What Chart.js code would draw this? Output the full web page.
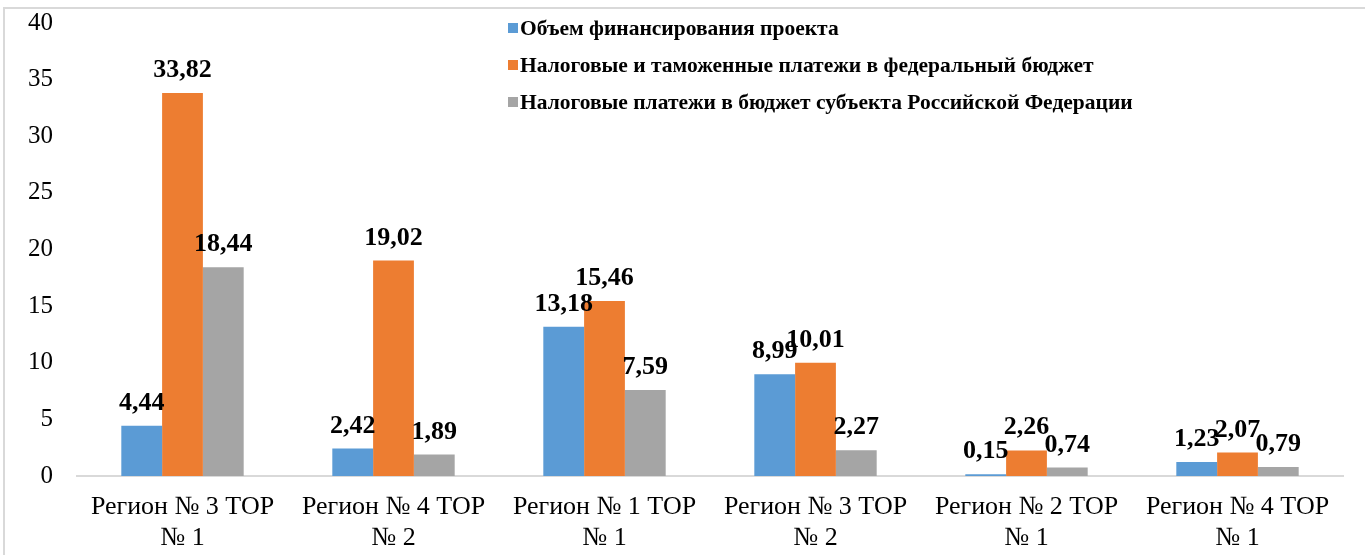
<!DOCTYPE html>
<html>
<head>
<meta charset="utf-8">
<script src="https://cdn.jsdelivr.net/npm/chart.js@4.4.1/dist/chart.umd.min.js"></script>
<style>
    body { margin: 0; background: #fff; }
    #frame {
        position: absolute; left: 3px; top: 7px;
        width: 1400px; height: 600px;
        border: 2px solid #d9d9d9;
    }
    #wrap { position: absolute; left: 0; top: 0; width: 1365px; height: 555px; }
    #legend {
        position: absolute; left: 508px; top: 11px;
        font-family: "Liberation Serif", serif; font-weight: bold; font-size: 21.5px;
        color: #000;
    }
    #legend div { height: 37px; line-height: 34px; white-space: nowrap; }
    #legend span.box {
        display: inline-block; width: 10px; height: 10px; margin-right: 2px;
        vertical-align: 2px;
    }
</style>
</head>
<body>
<div id="frame"></div>
<div id="wrap">
    <canvas id="chart" width="1365" height="555"></canvas>
    <div id="legend"></div>
</div>
<script>
const categories = [
    ['Регион № 3 ТОР', '№ 1'],
    ['Регион № 4 ТОР', '№ 2'],
    ['Регион № 1 ТОР', '№ 1'],
    ['Регион № 3 ТОР', '№ 2'],
    ['Регион № 2 ТОР', '№ 1'],
    ['Регион № 4 ТОР', '№ 1']
];
const financing = [4.44, 2.42, 13.18, 8.99, 0.15, 1.23];
const federalPayments = [33.82, 19.02, 15.46, 10.01, 2.26, 2.07];
const regionalPayments = [18.44, 1.89, 7.59, 2.27, 0.74, 0.79];
const seriesNames = [
    'Объем финансирования проекта',
    'Налоговые и таможенные платежи в федеральный бюджет',
    'Налоговые платежи в бюджет субъекта Российской Федерации'
];

const FONT = '"Liberation Serif", "Times New Roman", serif';

// подписи значений над столбцами
const valueLabels = {
    id: 'valueLabels',
    afterDatasetsDraw(chart) {
        const ctx = chart.ctx;
        ctx.save();
        ctx.font = 'bold 26px ' + FONT;
        ctx.fillStyle = '#000';
        ctx.textAlign = 'center';
        ctx.textBaseline = 'alphabetic';
        chart.data.datasets.forEach((ds, i) => {
            chart.getDatasetMeta(i).data.forEach((bar, j) => {
                const txt = ds.data[j].toFixed(2).replace('.', ',');
                ctx.fillText(txt, bar.x, bar.y - 16);
            });
        });
        ctx.restore();
    }
};

const chart = new Chart(document.getElementById('chart'), {
    type: 'bar',
    data: {
        labels: categories,
        datasets: [
            { label: seriesNames[0], data: financing, backgroundColor: '#5B9BD5' },
            { label: seriesNames[1], data: federalPayments, backgroundColor: '#ED7D31' },
            { label: seriesNames[2], data: regionalPayments, backgroundColor: '#A5A5A5' }
        ]
    },
    options: {
        responsive: false,
        animation: false,
        layout: { padding: { left: 0, right: 22, top: 23, bottom: 0 } },
        datasets: { bar: { categoryPercentage: 0.58, barPercentage: 1 } },
        plugins: { legend: { display: false }, tooltip: { enabled: false } },
        scales: {
            x: {
                grid: { display: false, drawTicks: false },
                border: { color: '#d9d9d9', width: 2 },
                ticks: { color: '#000', font: { family: FONT, size: 26, lineHeight: 1.19 }, padding: 16, maxRotation: 0 },
                afterFit(s) { s.height = 79; s.paddingLeft = 0; s.paddingRight = 0; }
            },
            y: {
                min: 0, max: 40,
                grid: { display: false, drawTicks: false },
                border: { display: false },
                ticks: { stepSize: 5, color: '#000', font: { family: FONT, size: 25 }, padding: 24 },
                afterFit(s) { s.width = 77; s.paddingTop = 0; s.paddingBottom = 0; }
            }
        }
    },
    plugins: [valueLabels]
});

const legendEl = document.getElementById('legend');
chart.data.datasets.forEach(ds => {
    const row = document.createElement('div');
    const box = document.createElement('span');
    box.className = 'box';
    box.style.background = ds.backgroundColor;
    row.appendChild(box);
    row.appendChild(document.createTextNode(ds.label));
    legendEl.appendChild(row);
});
</script>
</body>
</html>
